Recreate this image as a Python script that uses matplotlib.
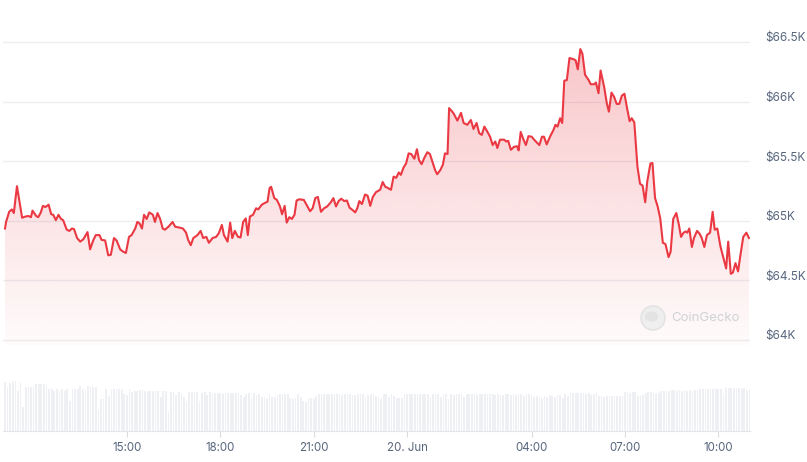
import numpy as np
import pandas as pd
import matplotlib
matplotlib.use("Agg")
import matplotlib.pyplot as plt
import matplotlib.dates as mdates
from matplotlib.colors import to_rgb
from matplotlib.patches import PathPatch, Circle, Ellipse
from matplotlib.transforms import ScaledTranslation

# BTC price, last 24h
START = pd.Timestamp("2024-06-19 11:05")

price_minutes = [
    0, 2, 8, 13, 17, 23, 28, 33, 39, 45, 50, 53,
    60, 64, 69, 73, 78, 84, 89, 93, 98, 103, 108, 112,
    119, 124, 129, 133, 139, 145, 151, 159, 164, 170, 175, 182,
    186, 193, 199, 204, 210, 215, 222, 228, 233, 239, 244, 251,
    255, 259, 264, 268, 273, 278, 285, 289, 294, 299, 304, 308,
    315, 323, 328, 334, 343, 349, 353, 358, 363, 371, 377, 382,
    388, 393, 400, 407, 412, 418, 422, 429, 434, 438, 443, 449,
    454, 459, 464, 468, 472, 478, 484, 488, 495, 501, 506, 510,
    513, 519, 524, 530, 534, 539, 543, 548, 553, 558, 562, 567,
    576, 583, 588, 593, 598, 603, 609, 615, 621, 628, 633, 638,
    643, 648, 654, 659, 664, 670, 675, 679, 683, 688, 694, 699,
    704, 709, 715, 723, 728, 733, 738, 744, 749, 754, 759, 763,
    768, 773, 778, 783, 789, 794, 798, 803, 808, 814, 819, 825,
    829, 833, 839, 844, 848, 853, 856, 864, 872, 879, 884, 891,
    898, 903, 909, 914, 919, 924, 930, 935, 940, 945, 949, 954,
    962, 966, 970, 975, 981, 987, 990, 994, 999, 1004, 1009, 1015,
    1022, 1030, 1035, 1039, 1044, 1051, 1057, 1061, 1065, 1070, 1074, 1078,
    1083, 1088, 1096, 1100, 1104, 1109, 1113, 1118, 1125, 1129, 1136, 1139,
    1144, 1148, 1155, 1160, 1164, 1169, 1174, 1179, 1184, 1189, 1194, 1199,
    1204, 1208, 1213, 1219, 1224, 1229, 1234, 1238, 1244, 1248, 1253, 1258,
    1263, 1268, 1273, 1279, 1283, 1288, 1294, 1299, 1303, 1308, 1312, 1315,
    1319, 1324, 1328, 1334, 1339, 1343, 1348, 1353, 1359, 1364, 1368, 1373,
    1379, 1384, 1390, 1394, 1399, 1403, 1408, 1413, 1418, 1423, 1429, 1434,
]

price_usd = [
    64935, 64990, 65075, 65095, 65065, 65290, 65160, 65025, 65035, 65040, 65030, 65085,
    65040, 65030, 65070, 65125, 65115, 65135, 65055, 65050, 65005, 65050, 65015, 65005,
    64925, 64915, 64935, 64930, 64855, 64825, 64845, 64905, 64760, 64835, 64880, 64880,
    64840, 64835, 64710, 64715, 64855, 64835, 64760, 64740, 64730, 64865, 64880, 64935,
    64990, 64980, 64935, 65050, 65015, 65070, 65050, 64990, 65065, 65015, 64935, 64925,
    64950, 64990, 64950, 64945, 64935, 64900, 64840, 64795, 64855, 64880, 64915, 64855,
    64865, 64815, 64855, 64865, 64895, 64965, 64880, 64825, 64985, 64855, 64915, 64865,
    64860, 64990, 65020, 64880, 65035, 65050, 65105, 65095, 65135, 65150, 65160, 65275,
    65285, 65190, 65175, 65120, 65055, 65125, 64985, 65030, 65015, 65050, 65170, 65180,
    65175, 65120, 65080, 65105, 65190, 65200, 65075, 65105, 65120, 65155, 65190, 65120,
    65165, 65185, 65165, 65170, 65110, 65090, 65070, 65105, 65165, 65140, 65220, 65210,
    65125, 65200, 65240, 65260, 65325, 65285, 65275, 65260, 65370, 65360, 65405, 65385,
    65445, 65480, 65565, 65560, 65520, 65600, 65510, 65475, 65525, 65575, 65560, 65480,
    65425, 65390, 65425, 65470, 65565, 65560, 65945, 65905, 65840, 65905, 65820, 65805,
    65845, 65770, 65820, 65735, 65720, 65790, 65745, 65705, 65635, 65665, 65610, 65680,
    65680, 65665, 65670, 65595, 65620, 65625, 65590, 65745, 65685, 65635, 65710, 65705,
    65670, 65635, 65705, 65705, 65640, 65710, 65760, 65805, 65790, 65860, 65820, 66175,
    66180, 66365, 66355, 66345, 66270, 66440, 66400, 66225, 66180, 66145, 66145, 66160,
    66070, 66260, 66120, 65985, 65915, 66075, 66040, 65980, 65980, 66050, 66065, 65945,
    65835, 65860, 65825, 65455, 65310, 65295, 65155, 65330, 65480, 65485, 65190, 65120,
    65020, 64815, 64805, 64695, 64740, 65015, 65065, 64965, 64865, 64900, 64910, 64900,
    64935, 64780, 64855, 64915, 64890, 64855, 64780, 64880, 64900, 65075, 64925, 64935,
    64785, 64700, 64600, 64825, 64555, 64565, 64645, 64575, 64725, 64865, 64900, 64855,
]

# 5-minute volume bars (relative, $M)
volume_musd = [
    245, 220, 240, 245, 250, 200, 245, 120, 220, 220, 220, 220, 235, 235, 235, 235, 230, 210, 210, 200, 210, 200, 210, 200,
    210, 150, 210, 210, 210, 225, 210, 205, 225, 220, 220, 220, 105, 160, 160, 210, 175, 210, 210, 210, 210, 210, 185, 180,
    210, 195, 200, 200, 205, 205, 200, 200, 200, 200, 200, 200, 170, 200, 200, 95, 195, 195, 180, 195, 185, 170, 145, 195,
    195, 195, 195, 150, 190, 195, 180, 195, 185, 190, 190, 190, 185, 190, 190, 190, 190, 190, 190, 180, 170, 185, 190, 160,
    190, 180, 185, 170, 170, 165, 185, 170, 170, 180, 185, 185, 185, 185, 165, 160, 165, 185, 170, 150, 145, 165, 165, 160,
    175, 185, 185, 185, 185, 185, 185, 185, 185, 185, 180, 185, 185, 185, 180, 180, 185, 185, 185, 170, 180, 185, 185, 175,
    170, 160, 185, 185, 170, 185, 175, 165, 165, 165, 185, 185, 185, 185, 185, 185, 185, 185, 185, 185, 170, 185, 185, 185,
    170, 185, 185, 160, 185, 180, 185, 185, 185, 170, 185, 185, 185, 185, 180, 185, 185, 185, 185, 185, 185, 180, 185, 180,
    180, 185, 185, 180, 185, 180, 185, 185, 175, 185, 185, 180, 170, 175, 170, 165, 175, 170, 180, 175, 170, 180, 180, 165,
    185, 175, 190, 190, 190, 190, 190, 190, 185, 190, 180, 185, 190, 175, 175, 170, 175, 175, 175, 175, 175, 175, 175, 195,
    195, 190, 195, 195, 175, 175, 180, 190, 195, 195, 190, 185, 190, 200, 200, 200, 200, 205, 205, 200, 205, 200, 205, 200,
    205, 200, 205, 205, 210, 210, 210, 210, 210, 210, 210, 210, 210, 190, 215, 215, 215, 215, 215, 215, 210, 215, 205, 205,
]
volume_step_min = 5

price_ticks = [64000, 64500, 65000, 65500, 66000, 66500]
price_tick_labels = ["$64K", "$64.5K", "$65K", "$65.5K", "$66K", "$66.5K"]
time_ticks = ["2024-06-19 15:00", "2024-06-19 18:00", "2024-06-19 21:00", "2024-06-20 00:00",
              "2024-06-20 04:00", "2024-06-20 07:00", "2024-06-20 10:00"]
time_tick_labels = ["15:00", "18:00", "21:00", "20. Jun", "04:00", "07:00", "10:00"]

RED = "#ea3943"
TEXT = "#58667e"

plt.rcParams["font.family"] = ["Inter", "DejaVu Sans"]

W, H = 807, 462
fig = plt.figure(figsize=(W / 100, H / 100), dpi=100)


def box(left, top, right, bottom):
    return [left / W, 1 - bottom / H, (right - left) / W, (bottom - top) / H]


ax = fig.add_axes(box(3, 30, 750, 345))
axv = fig.add_axes(box(3, 375, 750, 430.5))

t_price = mdates.date2num(START + pd.to_timedelta(price_minutes, unit="min"))
t_vol = mdates.date2num(START + pd.to_timedelta(np.arange(len(volume_musd)) * volume_step_min, unit="min"))
x_lo = mdates.date2num(START - pd.Timedelta(minutes=3.9))
x_hi = mdates.date2num(START + pd.Timedelta(minutes=1436))
y_lo, y_hi = 63958, 66600

# gradient area under the line
alpha = np.linspace(0.30, 0.02, 256)
rgba = np.zeros((256, 1, 4))
rgba[..., :3] = to_rgb(RED)
rgba[:, 0, 3] = alpha
im = ax.imshow(rgba, extent=[x_lo, x_hi, y_lo, y_hi], aspect="auto", origin="upper",
               interpolation="bilinear", zorder=1)
poly = ax.fill_between(t_price, price_usd, y_lo, facecolor="none", edgecolor="none")
clip = PathPatch(poly.get_paths()[0], transform=ax.transData, facecolor="none", edgecolor="none")
ax.add_patch(clip)
im.set_clip_path(clip)

ax.plot(t_price, price_usd, color=RED, lw=1.5, zorder=3, solid_joinstyle="round")

ax.set_xlim(x_lo, x_hi)
ax.set_ylim(y_lo, y_hi)
ax.set_yticks(price_ticks)
ax.set_yticklabels(price_tick_labels)
ax.set_xticks([])
ax.grid(axis="y", color="#eceef1", lw=1)
ax.set_axisbelow(True)
for s in ax.spines.values():
    s.set_visible(False)
ax.yaxis.tick_right()
ax.tick_params(axis="y", length=0, pad=11, labelsize=8.5, labelcolor=TEXT)
for lbl in ax.get_yticklabels():
    lbl.set_transform(lbl.get_transform() + ScaledTranslation(0, 0.05, fig.dpi_scale_trans))

# volume
axv.bar(t_vol, volume_musd, width=3.3 / 1440, color="#eef0f3", align="center")
axv.set_xlim(x_lo, x_hi)
axv.set_ylim(0, 277.5)
axv.set_yticks([])
for name, s in axv.spines.items():
    s.set_visible(name == "bottom")
axv.spines["bottom"].set_color("#e3e5e8")
axv.set_xticks(mdates.date2num(pd.to_datetime(time_ticks)))
axv.set_xticklabels(time_tick_labels)
axv.tick_params(axis="x", length=4, color="#d8dbe0", labelsize=8.3, labelcolor=TEXT, pad=4)

# watermark
fig.add_artist(Circle((6.53, 1.44), 0.12, transform=fig.dpi_scale_trans,
                      facecolor="#eeeeee", edgecolor="#e2e2e2", lw=1.2, alpha=0.9))
fig.add_artist(Ellipse((6.515, 1.455), 0.13, 0.10, transform=fig.dpi_scale_trans,
                       facecolor="#e2e2e2", edgecolor="none", alpha=0.9))
fig.text(671 / W, 1 - 318 / H, "CoinGecko", color="#cfd2d6", fontsize=9.5, va="center", ha="left")

fig.savefig("out.png", dpi=100)
